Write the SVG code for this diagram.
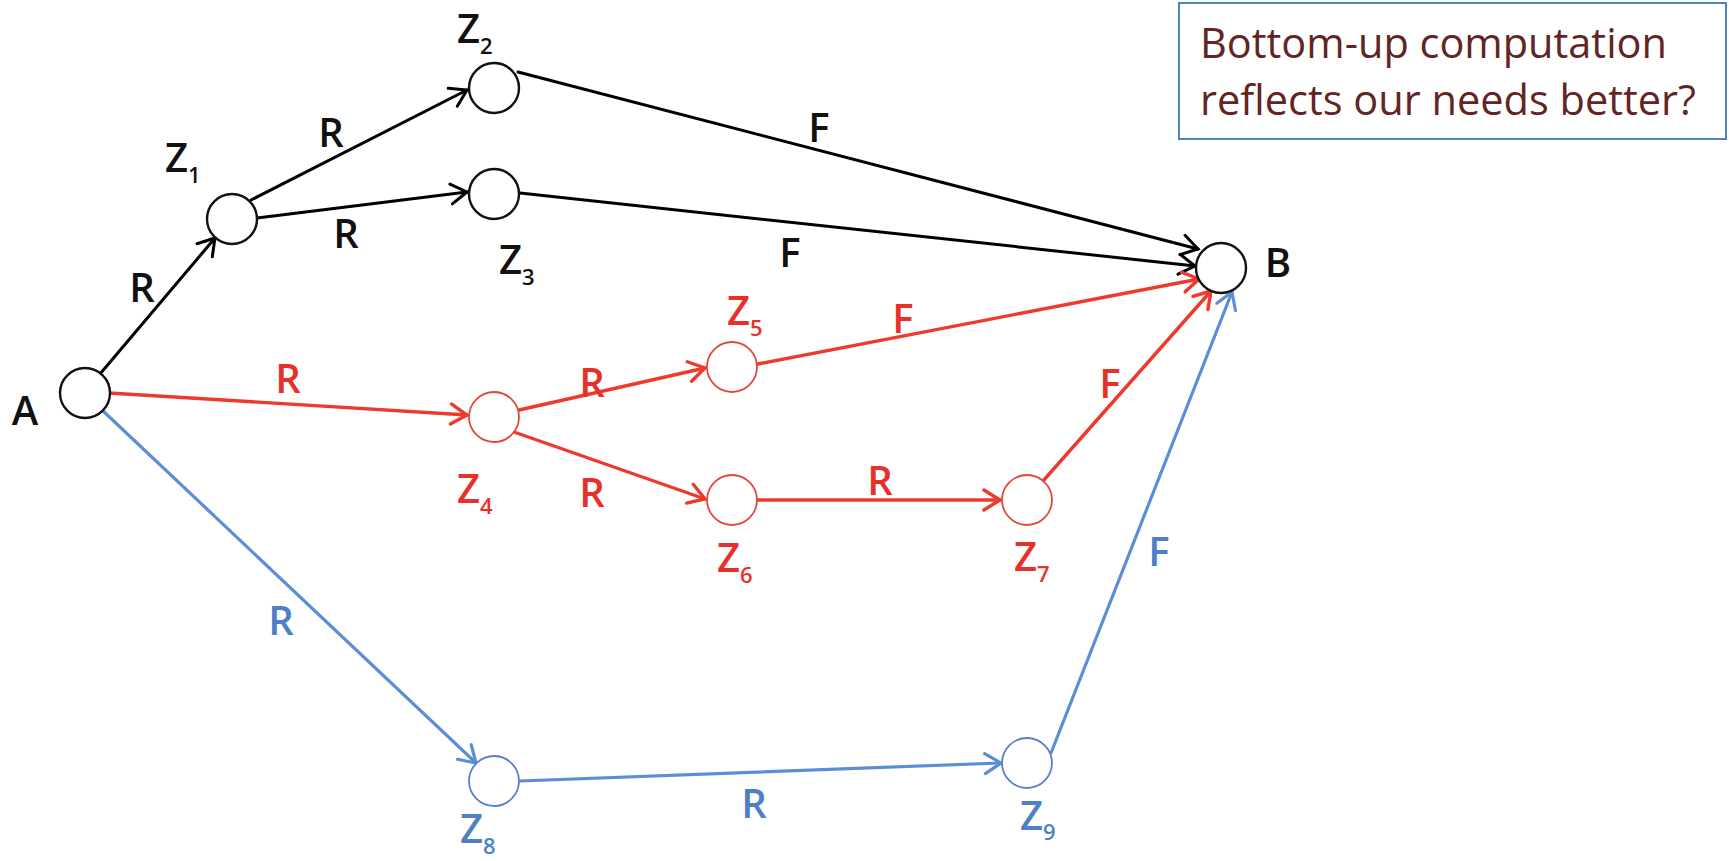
<svg xmlns="http://www.w3.org/2000/svg" width="1729" height="861" viewBox="0 0 1729 861">
<style>
  .node { fill: #fff; stroke-width: 2.4; }
  .nk { stroke: #111; }
  .nr { stroke: #E2473A; stroke-width: 1.8; }
  .nb { stroke: #5A7FCC; stroke-width: 1.8; }
  .e { fill: none; stroke-linecap: round; }
  .ek { stroke: #000; stroke-width: 3; }
  .er { stroke: #EE3A2C; stroke-width: 3.4; }
  .eb { stroke: #5B8ED6; stroke-width: 3.2; }
  .lbl { font-family: "Open Sans", "Liberation Sans", sans-serif; font-size: 40px; font-weight: 600; }
  .c { text-anchor: middle; }
  .tk { fill: #111; }
  .tr { fill: #E8302A; }
  .tb { fill: #4F7FC4; }
  .sub { font-size: 22px; }
  .box { fill: #fff; stroke: #4F81BD; stroke-width: 2; }
  .note { font-family: "Open Sans", "Liberation Sans", sans-serif; font-size: 42px; fill: #632523; }
</style>
<defs>
  <marker id="ak" markerUnits="userSpaceOnUse" markerWidth="20" markerHeight="22" refX="16" refY="10" orient="auto" overflow="visible">
    <path d="M0,0 L16,10 L0,20" fill="none" stroke="#000" stroke-width="3" stroke-linecap="round"/>
  </marker>
  <marker id="ar" markerUnits="userSpaceOnUse" markerWidth="20" markerHeight="22" refX="16" refY="10" orient="auto" overflow="visible">
    <path d="M0,0 L16,10 L0,20" fill="none" stroke="#EE3A2C" stroke-width="3.4" stroke-linecap="round"/>
  </marker>
  <marker id="ab" markerUnits="userSpaceOnUse" markerWidth="20" markerHeight="22" refX="16" refY="10" orient="auto" overflow="visible">
    <path d="M0,0 L16,10 L0,20" fill="none" stroke="#5B8ED6" stroke-width="3.2" stroke-linecap="round"/>
  </marker>
</defs>
<rect width="1729" height="861" fill="#fff"/>

<g id="connectors">
  <line class="e ek" x1="100" y1="374" x2="215" y2="238" marker-end="url(#ak)"/>
  <line class="e ek" x1="251" y1="200" x2="467" y2="90" marker-end="url(#ak)"/>
  <line class="e ek" x1="257" y1="218" x2="467" y2="192" marker-end="url(#ak)"/>
  <line class="e ek" x1="518" y1="72" x2="1198" y2="249" marker-end="url(#ak)"/>
  <line class="e ek" x1="520" y1="193" x2="1195" y2="266" marker-end="url(#ak)"/>
  <line class="e er" x1="109" y1="393" x2="467" y2="415" marker-end="url(#ar)"/>
  <line class="e er" x1="519" y1="410" x2="705" y2="368" marker-end="url(#ar)"/>
  <line class="e er" x1="514" y1="432" x2="705" y2="499" marker-end="url(#ar)"/>
  <line class="e er" x1="758" y1="500" x2="1000" y2="500" marker-end="url(#ar)"/>
  <line class="e er" x1="758" y1="364" x2="1199" y2="279" marker-end="url(#ar)"/>
  <line class="e er" x1="1043" y1="481" x2="1211" y2="291" marker-end="url(#ar)"/>
  <line class="e eb" x1="102" y1="410" x2="476" y2="763" marker-end="url(#ab)"/>
  <line class="e eb" x1="520" y1="781" x2="1001" y2="763" marker-end="url(#ab)"/>
  <line class="e eb" x1="1051" y1="753" x2="1232" y2="292" marker-end="url(#ab)"/>
</g>

<g id="edge-labels" class="lbl c">
  <text class="tk" x="142" y="302">R</text>
  <text class="tk" x="331" y="147">R</text>
  <text class="tk" x="346" y="248">R</text>
  <text class="tk" x="819" y="142">F</text>
  <text class="tk" x="790" y="267">F</text>
  <text class="tr" x="288" y="393">R</text>
  <text class="tr" x="592" y="397">R</text>
  <text class="tr" x="592" y="507">R</text>
  <text class="tr" x="880" y="495">R</text>
  <text class="tr" x="903" y="333">F</text>
  <text class="tr" x="1110" y="398">F</text>
  <text class="tb" x="1159" y="566">F</text>
  <text class="tb" x="281" y="635">R</text>
  <text class="tb" x="754" y="818">R</text>
</g>

<g id="node-A">
  <circle class="node nk" cx="85" cy="393" r="25"/>
  <text class="lbl tk c" x="25" y="425">A</text>
</g>
<g id="node-B">
  <circle class="node nk" cx="1221" cy="268" r="25"/>
  <text class="lbl tk c" x="1278" y="277">B</text>
</g>
<g id="node-Z1">
  <circle class="node nk" cx="232" cy="219" r="25"/>
  <text class="lbl tk" x="165" y="172">Z<tspan class="sub" dy="11">1</tspan></text>
</g>
<g id="node-Z2">
  <circle class="node nk" cx="494" cy="88" r="25"/>
  <text class="lbl tk" x="457" y="43">Z<tspan class="sub" dy="11">2</tspan></text>
</g>
<g id="node-Z3">
  <circle class="node nk" cx="494" cy="194" r="25"/>
  <text class="lbl tk" x="499" y="274">Z<tspan class="sub" dy="11">3</tspan></text>
</g>
<g id="node-Z4">
  <circle class="node nr" cx="494" cy="417" r="25"/>
  <text class="lbl tr" x="457" y="503">Z<tspan class="sub" dy="11">4</tspan></text>
</g>
<g id="node-Z5">
  <circle class="node nr" cx="732" cy="367" r="25"/>
  <text class="lbl tr" x="727" y="325">Z<tspan class="sub" dy="11">5</tspan></text>
</g>
<g id="node-Z6">
  <circle class="node nr" cx="732" cy="500" r="25"/>
  <text class="lbl tr" x="717" y="572">Z<tspan class="sub" dy="11">6</tspan></text>
</g>
<g id="node-Z7">
  <circle class="node nr" cx="1027" cy="500" r="25"/>
  <text class="lbl tr" x="1014" y="571">Z<tspan class="sub" dy="11">7</tspan></text>
</g>
<g id="node-Z8">
  <circle class="node nb" cx="494" cy="781" r="25"/>
  <text class="lbl tb" x="460" y="843">Z<tspan class="sub" dy="11">8</tspan></text>
</g>
<g id="node-Z9">
  <circle class="node nb" cx="1027" cy="763" r="25"/>
  <text class="lbl tb" x="1020" y="830">Z<tspan class="sub" dy="10">9</tspan></text>
</g>

<g id="note">
  <rect class="box" x="1179" y="3" width="547" height="136"/>
  <text class="note" x="1200" y="58" textLength="467" lengthAdjust="spacingAndGlyphs">Bottom-up computation</text>
  <text class="note" x="1200" y="115" textLength="496" lengthAdjust="spacingAndGlyphs">reflects our needs better?</text>
</g>
</svg>
